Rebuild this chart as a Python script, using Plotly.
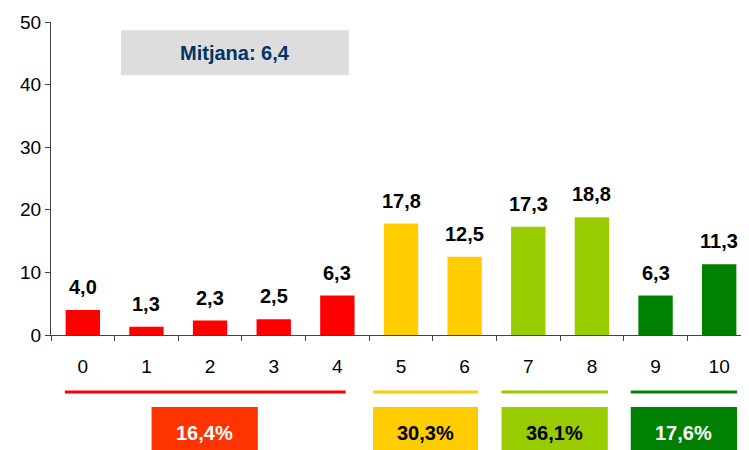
import plotly.graph_objects as go

categories = ["0", "1", "2", "3", "4", "5", "6", "7", "8", "9", "10"]
values = [4.0, 1.3, 2.3, 2.5, 6.3, 17.8, 12.5, 17.3, 18.8, 6.3, 11.3]
bar_colors = ["#FF0000"] * 5 + ["#FFCC00"] * 2 + ["#99CC00"] * 2 + ["#008000"] * 2
group_labels = ["16,4%", "30,3%", "36,1%", "17,6%"]
mean_label = "Mitjana: 6,4"

def fmt(v):
    return f"{v:.1f}".replace(".", ",")

font_main = "Liberation Sans, Arial"

fig = go.Figure()
fig.add_trace(go.Bar(
    x=categories, y=values,
    marker=dict(color=bar_colors, line=dict(width=0)),
    width=0.54,
))

annotations = []
for c, v in zip(categories, values):
    annotations.append(dict(xref="x", yref="y", x=c, y=v, text=fmt(v), showarrow=False,
                            xanchor="center", yanchor="bottom", yshift=10,
                            font=dict(family=font_main, size=20, color="black", weight="bold")))

# group lines and boxes (x in category index space)
groups = [
    dict(line=(-0.28, 4.13), box=(1.08, 2.75), lc="#FF0000", bc="#FF3300", tc="white"),
    dict(line=(4.56, 6.21), box=(4.56, 6.21), lc="#FFCC00", bc="#FFCC00", tc="black"),
    dict(line=(6.58, 8.25), box=(6.58, 8.25), lc="#99CC00", bc="#99CC00", tc="black"),
    dict(line=(8.61, 10.28), box=(8.61, 10.28), lc="#008000", bc="#008000", tc="white"),
]
shapes = []
for g, lab in zip(groups, group_labels):
    shapes.append(dict(type="line", xref="x", yref="paper", x0=g["line"][0], x1=g["line"][1],
                       y0=-0.182, y1=-0.182, line=dict(color=g["lc"], width=3)))
    shapes.append(dict(type="rect", xref="x", yref="paper", x0=g["box"][0], x1=g["box"][1],
                       y0=-0.23, y1=-0.40, fillcolor=g["bc"], line=dict(width=0)))
    annotations.append(dict(xref="x", yref="paper", x=(g["box"][0] + g["box"][1]) / 2, y=-0.313,
                            xanchor="center", yanchor="middle",
                            text=lab, showarrow=False,
                            font=dict(family=font_main, size=20, color=g["tc"], weight="bold")))

shapes.append(dict(type="rect", xref="x", yref="y", x0=0.60, x1=4.18, y0=41.5, y1=48.7,
                   fillcolor="#DDDDDD", line=dict(width=0), layer="below"))
annotations.append(dict(xref="x", yref="y", x=2.39, y=45.1, text=mean_label, showarrow=False,
                        xanchor="center", yanchor="middle",
                        font=dict(family=font_main, size=20, color="#003366", weight="bold")))

fig.update_layout(
    width=749, height=450,
    margin=dict(l=43, r=6, t=14, b=123, autoexpand=False),
    paper_bgcolor="white", plot_bgcolor="white",
    showlegend=False,
    shapes=shapes, annotations=annotations,
    font=dict(family=font_main, size=19, color="black"),
    xaxis=dict(
        range=[-0.5, 10.5], type="category", automargin=False,
        showline=True, linecolor="#444444", linewidth=1,
        ticks="outside", ticklen=5, tickcolor="#444444", tickson="boundaries",
        ticklabelstandoff=14,
        tickfont=dict(size=19, family=font_main, color="black"),
        showgrid=False, zeroline=False,
    ),
    yaxis=dict(
        range=[0, 50], tickvals=[0, 10, 20, 30, 40, 50], automargin=False,
        showline=True, linecolor="#444444", linewidth=1,
        ticks="outside", ticklen=5, tickcolor="#444444",
        tickfont=dict(size=19, family=font_main, color="black"),
        showgrid=False, zeroline=False,
    ),
)

fig.write_html("out.html")
